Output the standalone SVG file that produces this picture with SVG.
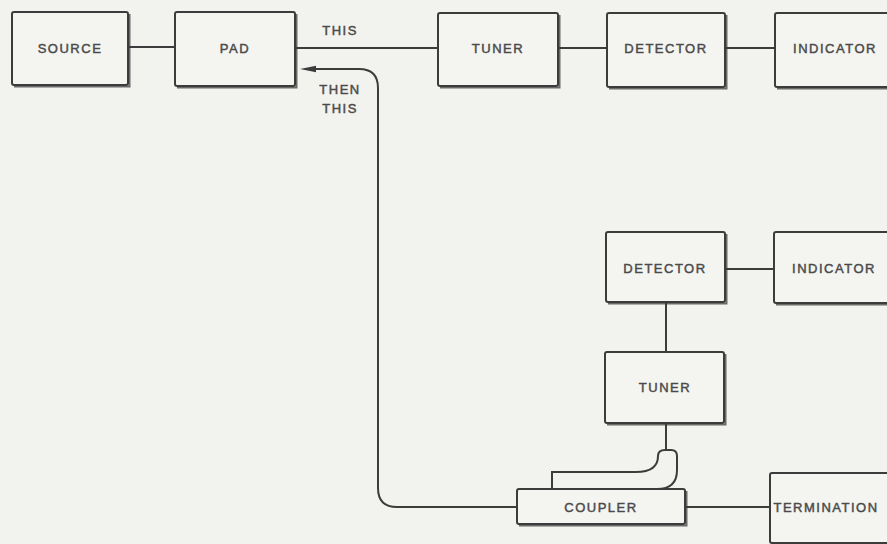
<svg xmlns="http://www.w3.org/2000/svg" width="887" height="544" viewBox="0 0 887 544">
<defs>
<style>
.box{fill:#f4f4f1;stroke:#3c3c3c;stroke-width:2}
.sh{fill:none;stroke:#3c3c3c;stroke-width:2;opacity:0.75}
.lbl{font-family:"Liberation Sans",Arial,sans-serif;font-size:13px;letter-spacing:1.5px;fill:#4a4a4a;stroke:#4a4a4a;stroke-width:0.45;text-anchor:middle}
.ln{fill:none;stroke:#3c3c3c;stroke-width:2}
</style>
<marker id="ah" viewBox="0 0 16 8" refX="0" refY="4" markerWidth="16" markerHeight="8" markerUnits="userSpaceOnUse" orient="auto-start-reverse">
<path d="M16 4 L0 0.8 L0 7.2 Z" fill="#3c3c3c"/>
</marker>
</defs>
<rect width="887" height="544" fill="#f2f2ef"/>
<g id="connectors">
<line class="ln" x1="128" y1="47" x2="175" y2="47"/>
<line class="ln" x1="295" y1="48" x2="438" y2="48"/>
<line class="ln" x1="558" y1="48" x2="607" y2="48"/>
<line class="ln" x1="725" y1="48" x2="775" y2="48"/>
<line class="ln" x1="725" y1="269" x2="774" y2="269"/>
<line class="ln" x1="666" y1="302" x2="666" y2="352"/>
<line class="ln" x1="666" y1="423" x2="666" y2="450"/>
<line class="ln" x1="685" y1="507" x2="770" y2="507"/>
<path class="ln" d="M517 507 H397 Q378 507 378 488 V88 Q378 69 359 69 H316" marker-end="url(#ah)"/>
<path class="ln" d="M552 489 V472 H636 Q658 472 658 456 Q658 450 665 450 H671 Q677 450 677 456 V470 Q677 489 657 489"/>
</g>
<g id="source"><rect class="box" x="12" y="12" width="116" height="73" rx="2"/><path class="sh" d="M14 86.5 H129.5 V14"/><text class="lbl" x="70" y="53">SOURCE</text></g>
<g id="pad"><rect class="box" x="175" y="12" width="120" height="74" rx="2"/><path class="sh" d="M177 87.5 H296.5 V14"/><text class="lbl" x="235" y="53">PAD</text></g>
<g id="tuner1"><rect class="box" x="438" y="13" width="120" height="73" rx="2"/><path class="sh" d="M440 87.5 H559.5 V15"/><text class="lbl" x="498" y="53">TUNER</text></g>
<g id="detector1"><rect class="box" x="607" y="13" width="118" height="74" rx="2"/><path class="sh" d="M609 88.5 H726.5 V15"/><text class="lbl" x="666" y="53">DETECTOR</text></g>
<g id="indicator1"><rect class="box" x="775" y="13" width="130" height="74" rx="2"/><path class="sh" d="M777 88.5 H905"/><text class="lbl" x="835" y="53">INDICATOR</text></g>
<g id="label-this"><text class="lbl" x="340" y="35">THIS</text></g>
<g id="label-then-this"><text class="lbl" x="340" y="94">THEN</text><text class="lbl" x="340" y="113">THIS</text></g>
<g id="detector2"><rect class="box" x="606" y="232" width="119" height="70" rx="2"/><path class="sh" d="M608 303.5 H726.5 V234"/><text class="lbl" x="665" y="273">DETECTOR</text></g>
<g id="indicator2"><rect class="box" x="774" y="232" width="130" height="71" rx="2"/><path class="sh" d="M776 304.5 H905"/><text class="lbl" x="834" y="273">INDICATOR</text></g>
<g id="tuner2"><rect class="box" x="605" y="352" width="119" height="71" rx="2"/><path class="sh" d="M607 424.5 H725.5 V354"/><text class="lbl" x="665" y="392">TUNER</text></g>
<g id="coupler"><rect class="box" x="517" y="489" width="168" height="35" rx="2"/><path class="sh" d="M519 525.5 H686.5 V491"/><text class="lbl" x="601" y="512">COUPLER</text></g>
<g id="termination"><rect class="box" x="770" y="473" width="130" height="70" rx="2"/><text class="lbl" x="826" y="512">TERMINATION</text></g>
</svg>
